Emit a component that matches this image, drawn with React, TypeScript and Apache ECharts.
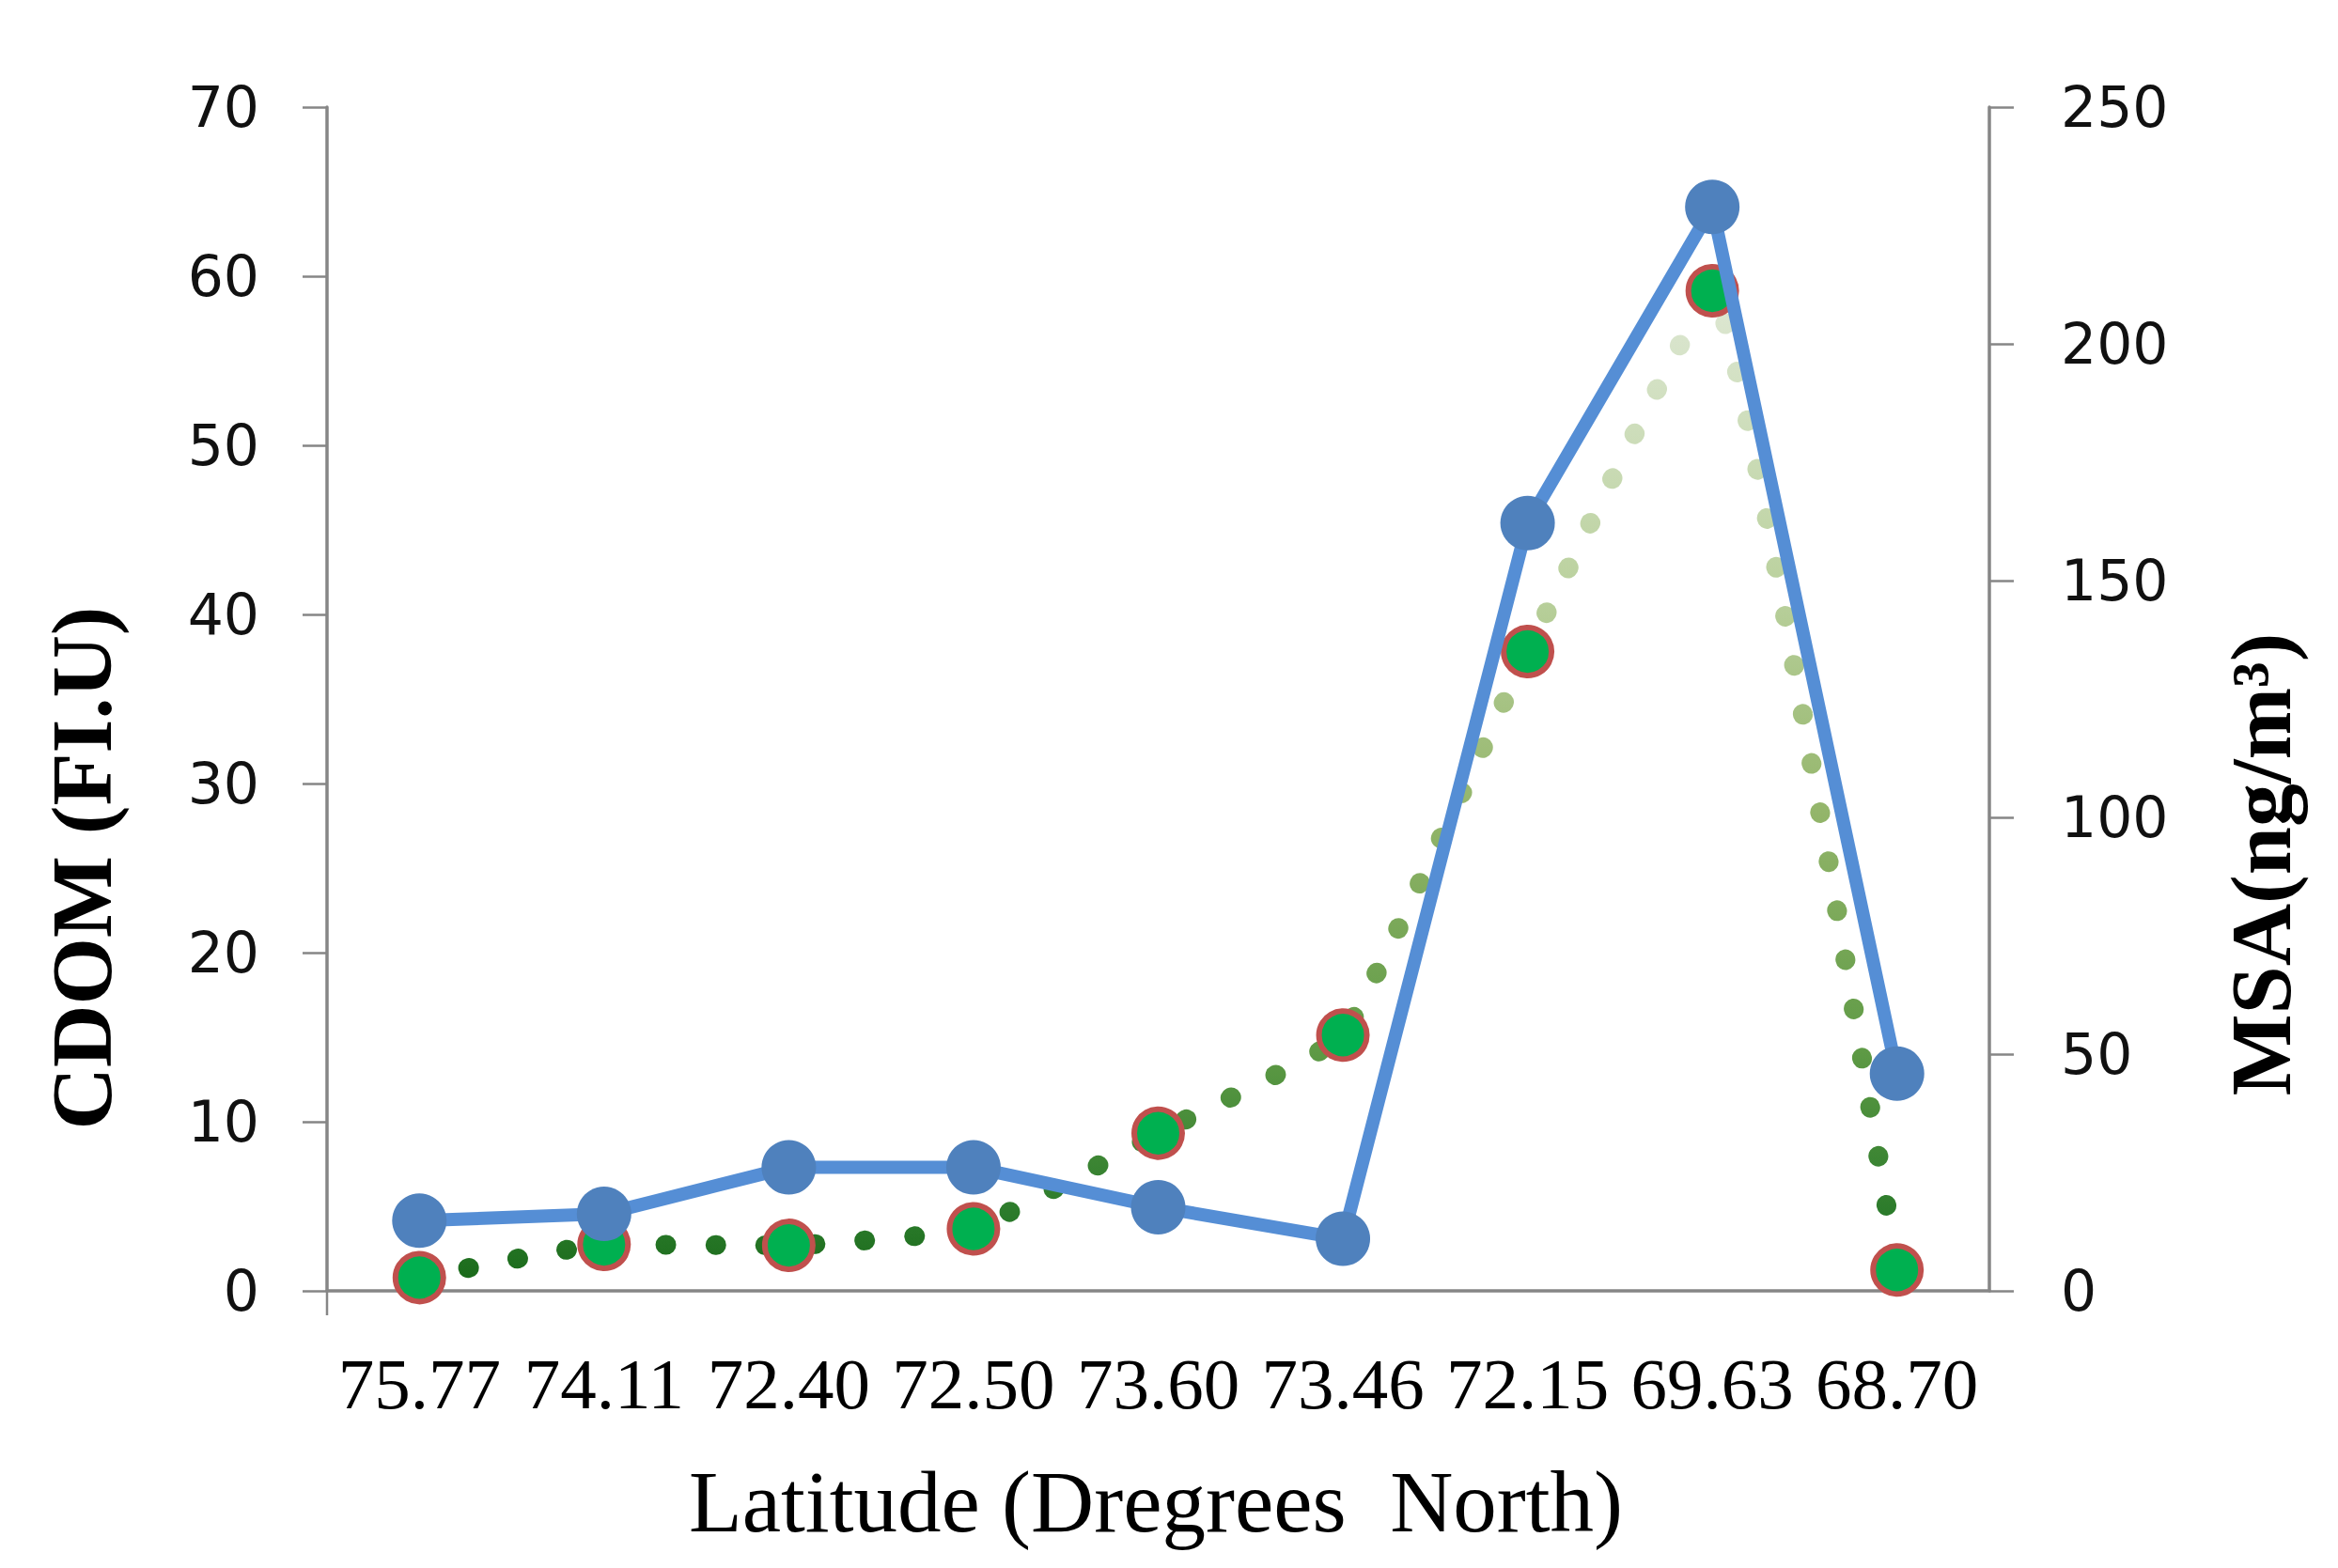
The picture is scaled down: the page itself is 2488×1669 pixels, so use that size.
import React, { useEffect, useRef } from "react";
import * as echarts from "echarts";

const latitudes = ["75.77", "74.11", "72.40", "72.50", "73.60", "73.46", "72.15", "69.63", "68.70"];
const cdomValues = [4.15, 4.55, 7.3, 7.3, 4.95, 3.08, 45.4, 64.1, 12.85];
const msaValues = [2.8, 9.8, 9.6, 13.1, 33.3, 54.0, 135.0, 211.2, 4.4];
const cdomAxisRange = [0, 70, 10];
const msaAxisRange = [0, 250, 50];

const xTitle = "Latitude (Dregrees  North)";
const leftTitle = "CDOM (FI.U)";
const rightTitle = "MSA(ng/m³)";

const AXIS_GRAY = "#868686";

export default function App() {
  const ref = useRef<HTMLDivElement>(null);

  useEffect(() => {
    if (!ref.current) return;
    const chart = echarts.init(ref.current, undefined, { renderer: "svg" });

    const yAxisCommon = {
      type: "value" as const,
      splitLine: { show: false },
      axisLine: { show: true, lineStyle: { color: AXIS_GRAY, width: 3.5 } },
      axisTick: { show: true, inside: false, length: 26, lineStyle: { color: AXIS_GRAY, width: 2.5 } },
      axisLabel: {
        fontFamily: "DejaVu Sans",
        fontSize: 60,
        color: "#111",
        margin: 72,
      },
    };

    const option = {
      animation: false,
      backgroundColor: "#fff",
      grid: { left: 348, right: 371, top: 114, bottom: 295, containLabel: false },
      xAxis: {
        type: "category",
        data: latitudes,
        boundaryGap: true,
        axisLine: { show: true, lineStyle: { color: AXIS_GRAY, width: 3.5 } },
        axisTick: { show: false },
        axisLabel: {
          interval: 0,
          fontFamily: "Liberation Serif",
          fontSize: 77,
          lineHeight: 77,
          color: "#000",
          margin: 60,
        },
        splitLine: { show: false },
      },
      yAxis: [
        {
          ...yAxisCommon,
          position: "left",
          min: cdomAxisRange[0],
          max: cdomAxisRange[1],
          interval: cdomAxisRange[2],
        },
        {
          ...yAxisCommon,
          position: "right",
          min: msaAxisRange[0],
          max: msaAxisRange[1],
          interval: msaAxisRange[2],
          axisLabel: { ...yAxisCommon.axisLabel, margin: 76 },
        },
      ],
      series: [
        {
          name: "MSA",
          type: "line",
          yAxisIndex: 1,
          data: msaValues,
          smooth: 0.1,
          symbol: "circle",
          symbolSize: 51,
          z: 2,
          lineStyle: {
            width: 21,
            type: [1, 52],
            cap: "round",
            color: new echarts.graphic.LinearGradient(0, 0, 0, 1, [
              { offset: 0, color: "#dfe8d4" },
              { offset: 0.05, color: "#d8e4cb" },
              { offset: 0.29, color: "#bcd2a0" },
              { offset: 0.53, color: "#93b56a" },
              { offset: 0.77, color: "#5e9a45" },
              { offset: 0.94, color: "#2a7a2a" },
              { offset: 1, color: "#1b6b1b" },
            ]),
          },
          itemStyle: { color: "#00b050", borderColor: "#c0504d", borderWidth: 6 },
        },
        {
          name: "CDOM",
          type: "line",
          yAxisIndex: 0,
          data: cdomValues,
          symbol: "circle",
          symbolSize: 58,
          z: 3,
          lineStyle: { width: 14, color: "#558ed5" },
          itemStyle: { color: "#4f81bd" },
        },
      ],
      graphic: [
        {
          type: "line",
          shape: { x1: 348, y1: 1374, x2: 348, y2: 1400 },
          style: { stroke: AXIS_GRAY, lineWidth: 2.5 },
        },
        {
          type: "text",
          x: 87,
          y: 924,
          rotation: Math.PI / 2,
          style: {
            text: leftTitle,
            fontFamily: "Liberation Serif",
            fontWeight: "bold",
            fontSize: 92,
            fill: "#000",
            align: "center",
            verticalAlign: "middle",
          },
        },
        {
          type: "text",
          x: 2406,
          y: 920,
          rotation: Math.PI / 2,
          style: {
            text: rightTitle,
            fontFamily: "Liberation Serif",
            fontWeight: "bold",
            fontSize: 92,
            fill: "#000",
            align: "center",
            verticalAlign: "middle",
          },
        },
        {
          type: "text",
          x: 1230,
          y: 1598,
          style: {
            text: xTitle,
            fontFamily: "Liberation Serif",
            fontSize: 93,
            fill: "#000",
            align: "center",
            verticalAlign: "middle",
          },
        },
      ],
    };

    chart.setOption(option as any);
    return () => chart.dispose();
  }, []);

  return (
    <div
      ref={ref}
      style={{ position: "fixed", left: 0, top: 0, width: 2488, height: 1669, background: "#fff" }}
    />
  );
}
